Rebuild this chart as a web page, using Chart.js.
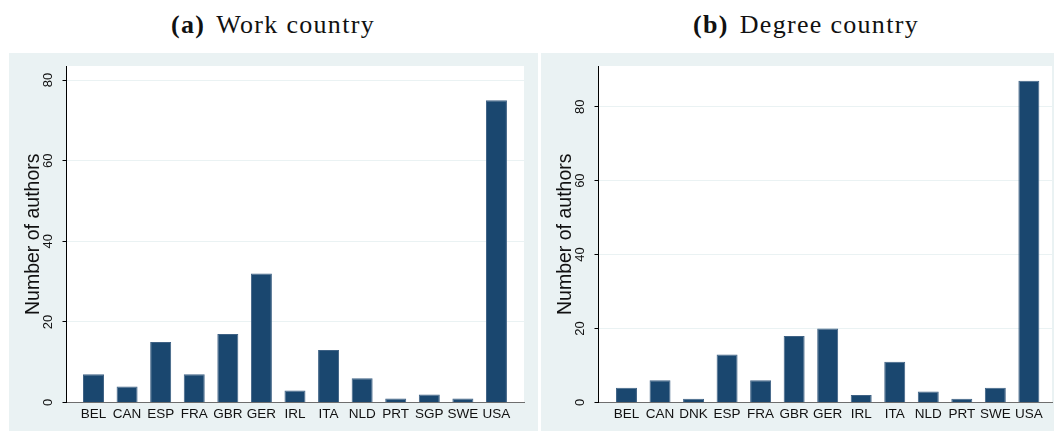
<!DOCTYPE html>
<html>
<head>
<meta charset="utf-8">
<script src="https://cdn.jsdelivr.net/npm/chart.js@4/dist/chart.umd.min.js"></script>
<style>
  body { margin: 0; background: #fff; width: 1054px; height: 431px; position: relative; overflow: hidden; }
  .titulo { position: absolute; top: 10px; font-family: "Liberation Serif", "DejaVu Serif", serif; font-size: 26px; letter-spacing: 1.3px; color: #111; white-space: nowrap; transform: translateX(-50%); }
  .titulo b { margin-right: 11px; }
  .panel { position: absolute; top: 53px; height: 378px; background: #eaf2f3; }
</style>
</head>
<body>
<div class="titulo" style="left:273px"><b>(a)</b>Work country</div>
<div class="titulo" style="left:806px"><b>(b)</b>Degree country</div>
<div class="panel" style="left:9px;width:529px"><canvas id="trabajo" width="529" height="378"></canvas></div>
<div class="panel" style="left:541px;width:513px"><canvas id="titulo" width="513" height="378"></canvas></div>
<script>
// Datos
const paisesTrabajo = ["BEL", "CAN", "ESP", "FRA", "GBR", "GER", "IRL", "ITA", "NLD", "PRT", "SGP", "SWE", "USA"];
const autoresTrabajo = [7, 4, 15, 7, 17, 32, 3, 13, 6, 1, 2, 1, 75];

const paisesTitulo = ["BEL", "CAN", "DNK", "ESP", "FRA", "GBR", "GER", "IRL", "ITA", "NLD", "PRT", "SWE", "USA"];
const autoresTitulo = [4, 6, 1, 13, 6, 18, 20, 2, 11, 3, 1, 4, 87];

const ticksY = [0, 20, 40, 60, 80];

const fuente = "'Liberation Sans', Arial, sans-serif";

// Fondo blanco del área del gráfico + etiquetas verticales del eje y (estilo Stata)
const estiloStata = {
  id: "estiloStata",
  beforeDraw(chart) {
    const a = chart.chartArea;
    const ctx = chart.ctx;
    ctx.save();
    ctx.fillStyle = "#fff";
    ctx.fillRect(a.left, a.top, a.right - a.left, a.bottom - a.top);
    ctx.restore();
  },
  afterDraw(chart) {
    const ctx = chart.ctx;
    const y = chart.scales.y;
    ctx.save();
    ctx.fillStyle = "#111";
    ctx.font = "13px " + fuente;
    ctx.textAlign = "center";
    ctx.textBaseline = "middle";
    y.ticks.forEach(function (t) {
      ctx.save();
      ctx.translate(chart.chartArea.left - 18.5, y.getPixelForValue(t.value));
      ctx.rotate(-Math.PI / 2);
      ctx.fillText(String(t.value), 0, 0);
      ctx.restore();
    });
    ctx.restore();
  }
};

function grafico(id, paises, valores, xMin, xMax, yMax, derecha) {
  return new Chart(document.getElementById(id), {
    type: "bar",
    data: {
      datasets: [{
        data: valores.map((v, i) => ({ x: i, y: v })),
        backgroundColor: "#1a476f",
        borderColor: "#3f6285",
        borderWidth: 1,
        barPercentage: 0.625,
        categoryPercentage: 1
      }]
    },
    options: {
      responsive: false,
      animation: false,
      layout: { padding: { top: 13, right: derecha, left: 0, bottom: 0 } },
      plugins: { legend: { display: false }, tooltip: { enabled: false } },
      scales: {
        x: {
          type: "linear",
          offset: false,
          min: xMin,
          max: xMax,
          afterBuildTicks: (s) => { s.ticks = paises.map((p, i) => ({ value: i })); },
          afterFit: (s) => { s.height = 28.5; },
          grid: { display: false, drawTicks: false },
          border: { display: true, color: "#6e6e6e", width: 1 },
          ticks: {
            padding: 4,
            autoSkip: false,
            maxRotation: 0,
            color: "#111",
            font: { family: fuente, size: 13.5 },
            callback: (v) => paises[v]
          }
        },
        y: {
          min: 0,
          max: yMax,
          afterBuildTicks: (s) => { s.ticks = ticksY.map((v) => ({ value: v })); },
          afterFit: (s) => { s.width = 57.5; },
          grid: { color: "#eaf2f3", tickColor: "#000", tickLength: 4, lineWidth: 1 },
          border: { display: true, color: "#000", width: 1 },
          ticks: { display: false },
          title: {
            display: true,
            text: "Number of authors",
            color: "#111",
            padding: { top: 12.5, bottom: 0 },
            font: { family: fuente, size: 19.5 }
          }
        }
      }
    },
    plugins: [estiloStata]
  });
}

grafico("trabajo", paisesTrabajo, autoresTrabajo, -0.804, 12.82, 83.5, 14);
grafico("titulo", paisesTitulo, autoresTitulo, -0.835, 12.69, 91.0, 2);
</script>
</body>
</html>
